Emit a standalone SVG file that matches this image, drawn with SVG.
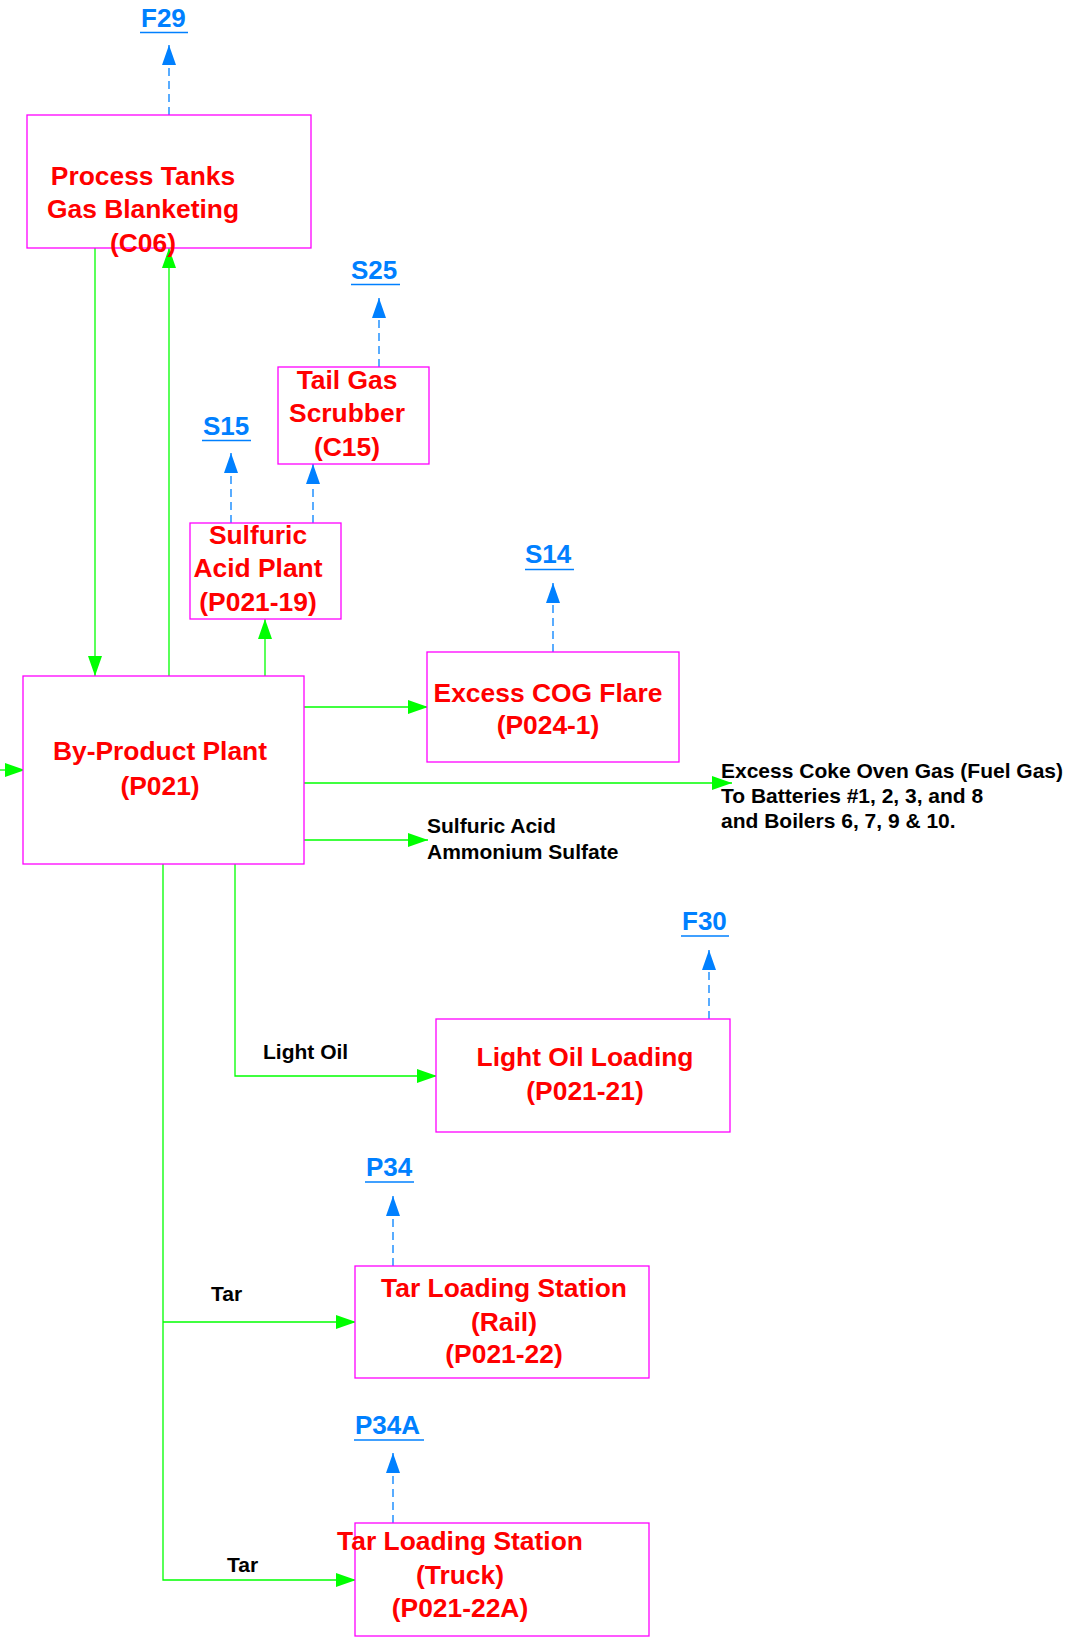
<svg xmlns="http://www.w3.org/2000/svg" width="1078" height="1638" viewBox="0 0 1078 1638">
<style>
.box{fill:#fff;stroke:#ff00ff;stroke-width:1.3}
.nt{font-family:"Liberation Sans",Arial,sans-serif;font-weight:bold;font-size:26.4px;fill:#ff0000;text-anchor:middle}
.em{font-family:"Liberation Sans",Arial,sans-serif;font-weight:bold;font-size:26px;fill:#0080ff}
.lb{font-family:"Liberation Sans",Arial,sans-serif;font-weight:bold;font-size:21px;fill:#000}
.g{fill:none;stroke:#00ff00;stroke-width:1.3}
.b{fill:none;stroke:#0080ff;stroke-width:1.3;stroke-dasharray:8,5}
.ul{stroke:#0080ff;stroke-width:1.5}
</style>
<defs>
<marker id="ga" markerUnits="userSpaceOnUse" markerWidth="20" markerHeight="14" refX="20" refY="7" orient="auto"><path d="M0,0L20,7L0,14z" fill="#00ff00"/></marker>
<marker id="ba" markerUnits="userSpaceOnUse" markerWidth="20" markerHeight="14" refX="20" refY="7" orient="auto"><path d="M0,0L20,7L0,14z" fill="#0080ff"/></marker>
</defs>
<rect width="1078" height="1638" fill="#fff"/>
<g id="connectors">
<path class="g" d="M95,248V676" marker-end="url(#ga)"/>
<path class="g" d="M169,676V248" marker-end="url(#ga)"/>
<path class="g" d="M265,676V619" marker-end="url(#ga)"/>
<path class="g" d="M0,770H25" marker-end="url(#ga)"/>
<path class="g" d="M304,707H428" marker-end="url(#ga)"/>
<path class="g" d="M304,783H732" marker-end="url(#ga)"/>
<path class="g" d="M304,840H428" marker-end="url(#ga)"/>
<path class="g" d="M235,864V1076H437" marker-end="url(#ga)"/>
<path class="g" d="M163,864V1580H356" marker-end="url(#ga)"/>
<path class="g" d="M163,1322H356" marker-end="url(#ga)"/>
<path class="b" d="M169,115V45" marker-end="url(#ba)"/>
<path class="b" d="M379,367V298" marker-end="url(#ba)"/>
<path class="b" d="M231,523V453" marker-end="url(#ba)"/>
<path class="b" d="M313,523V464" marker-end="url(#ba)"/>
<path class="b" d="M553,652V583" marker-end="url(#ba)"/>
<path class="b" d="M709,1019V950" marker-end="url(#ba)"/>
<path class="b" d="M393,1266V1196" marker-end="url(#ba)"/>
<path class="b" d="M393,1523V1453" marker-end="url(#ba)"/>
</g>
<g id="process-tanks">
<rect class="box" x="27" y="115" width="284" height="133"/>
<text class="nt" x="143" y="185">Process Tanks</text>
<text class="nt" x="143" y="218">Gas Blanketing</text>
<text class="nt" x="143" y="252">(C06)</text>
</g>
<g id="tail-gas">
<rect class="box" x="278" y="367" width="151" height="97"/>
<text class="nt" x="347" y="389">Tail Gas</text>
<text class="nt" x="347" y="422">Scrubber</text>
<text class="nt" x="347" y="456">(C15)</text>
</g>
<g id="sulfuric">
<rect class="box" x="190" y="523" width="151" height="96"/>
<text class="nt" x="258" y="544">Sulfuric</text>
<text class="nt" x="258" y="577">Acid Plant</text>
<text class="nt" x="258" y="611">(P021-19)</text>
</g>
<g id="byproduct">
<rect class="box" x="23" y="676" width="281" height="188"/>
<text class="nt" x="160" y="760">By-Product Plant</text>
<text class="nt" x="160" y="795">(P021)</text>
</g>
<g id="flare">
<rect class="box" x="427" y="652" width="252" height="110"/>
<text class="nt" x="548" y="702">Excess COG Flare</text>
<text class="nt" x="548" y="734">(P024-1)</text>
</g>
<g id="light-oil">
<rect class="box" x="436" y="1019" width="294" height="113"/>
<text class="nt" x="585" y="1066">Light Oil Loading</text>
<text class="nt" x="585" y="1100">(P021-21)</text>
</g>
<g id="tar-rail">
<rect class="box" x="355" y="1266" width="294" height="112"/>
<text class="nt" x="504" y="1297">Tar Loading Station</text>
<text class="nt" x="504" y="1331">(Rail)</text>
<text class="nt" x="504" y="1363">(P021-22)</text>
</g>
<g id="tar-truck">
<rect class="box" x="355" y="1523" width="294" height="113"/>
<text class="nt" x="460" y="1550">Tar Loading Station</text>
<text class="nt" x="460" y="1584">(Truck)</text>
<text class="nt" x="460" y="1617">(P021-22A)</text>
</g>
<g id="emission-points">
<text class="em" x="141" y="27">F29</text><line class="ul" x1="140" y1="32.5" x2="188" y2="32.5"/>
<text class="em" x="351" y="279">S25</text><line class="ul" x1="351" y1="284.5" x2="400" y2="284.5"/>
<text class="em" x="203" y="435">S15</text><line class="ul" x1="202" y1="440.5" x2="251" y2="440.5"/>
<text class="em" x="525" y="563">S14</text><line class="ul" x1="525" y1="569.5" x2="574" y2="569.5"/>
<text class="em" x="682" y="930">F30</text><line class="ul" x1="681" y1="936" x2="729" y2="936"/>
<text class="em" x="366" y="1176">P34</text><line class="ul" x1="365" y1="1182" x2="414" y2="1182"/>
<text class="em" x="355" y="1434">P34A</text><line class="ul" x1="354" y1="1440" x2="424" y2="1440"/>
</g>
<g id="labels">
<text class="lb" x="721" y="778">Excess Coke Oven Gas (Fuel Gas)</text>
<text class="lb" x="721" y="803">To Batteries #1, 2, 3, and 8</text>
<text class="lb" x="721" y="828">and Boilers 6, 7, 9 &amp; 10.</text>
<text class="lb" x="427" y="833">Sulfuric Acid</text>
<text class="lb" x="427" y="859">Ammonium Sulfate</text>
<text class="lb" x="263" y="1059">Light Oil</text>
<text class="lb" x="211" y="1301">Tar</text>
<text class="lb" x="227" y="1572">Tar</text>
</g>
</svg>
